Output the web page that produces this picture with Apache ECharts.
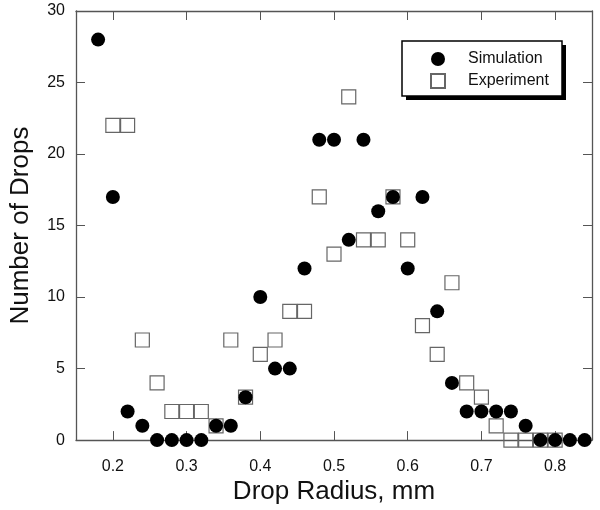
<!DOCTYPE html>
<html>
<head>
<meta charset="utf-8">
<script src="https://cdn.jsdelivr.net/npm/echarts@6/dist/echarts.min.js"></script>
<style>
  html, body { margin: 0; padding: 0; background: #fff; }
  #chart { width: 600px; height: 510px; }
</style>
</head>
<body>
<div id="chart"></div>
<script>
  // drop radius (mm) for each bin
  var simRadius = [0.18, 0.20, 0.22, 0.24, 0.26, 0.28, 0.30, 0.32, 0.34, 0.36, 0.38, 0.40,
    0.42, 0.44, 0.46, 0.48, 0.50, 0.52, 0.54, 0.56, 0.58, 0.60, 0.62, 0.64, 0.66, 0.68,
    0.70, 0.72, 0.74, 0.76, 0.78, 0.80, 0.82, 0.84];
  var simCount = [28, 17, 2, 1, 0, 0, 0, 0, 1, 1, 3, 10,
    5, 5, 12, 21, 21, 14, 21, 16, 17, 12, 17, 9, 4, 2,
    2, 2, 2, 1, 0, 0, 0, 0];

  var expRadius = [0.20, 0.22, 0.24, 0.26, 0.28, 0.30, 0.32, 0.34, 0.36, 0.38, 0.40,
    0.42, 0.44, 0.46, 0.48, 0.50, 0.52, 0.54, 0.56, 0.58, 0.60, 0.62, 0.64, 0.66, 0.68,
    0.70, 0.72, 0.74, 0.76, 0.78, 0.80];
  var expCount = [22, 22, 7, 4, 2, 2, 2, 1, 7, 3, 6,
    7, 9, 9, 17, 13, 24, 14, 14, 17, 14, 8, 6, 11, 4,
    3, 1, 0, 0, 0, 0];

  var xTicks = [0.2, 0.3, 0.4, 0.5, 0.6, 0.7, 0.8];
  var yTicks = [0, 5, 10, 15, 20, 25, 30];

  function pairs(xs, ys) {
    return xs.map(function (x, i) { return [x, ys[i]]; });
  }

  var font = 'Liberation Sans, Arial, sans-serif';
  var axisColor = '#555';

  function frameAxis(pos, min, max, ticks, extra) {
    var ax = {
      type: 'value',
      min: min,
      max: max,
      axisLine: {show: true, onZero: false, lineStyle: {color: axisColor, width: 1.3}},
      axisTick: {show: true, inside: true, length: 9, customValues: ticks, lineStyle: {color: axisColor}},
      axisLabel: {show: false},
      splitLine: {show: false}
    };
    if (pos) ax.position = pos;
    return Object.assign(ax, extra || {});
  }

  var myChart = echarts.init(document.getElementById('chart'), null, {renderer: 'canvas'});
  myChart.setOption({
    animation: false,
    textStyle: {fontFamily: font},
    grid: {left: 76, right: 8, top: 11, bottom: 69},
    // legend box with a hard drop shadow
    graphic: [
      {type: 'rect', z: 10, shape: {x: 406, y: 45, width: 160, height: 55}, style: {fill: '#000'}},
      {type: 'rect', z: 11, shape: {x: 402, y: 41, width: 160, height: 55},
        style: {fill: '#fff', stroke: '#000', lineWidth: 1.5}}
    ],
    legend: {
      z: 20,
      orient: 'vertical',
      left: 402,
      top: 41,
      data: ['Simulation', 'Experiment'],
      padding: [10, 0, 0, 28],
      itemGap: 6,
      itemWidth: 14,
      itemHeight: 14,
      textStyle: {fontFamily: font, fontSize: 16, color: '#111', padding: [0, 0, 0, 18]}
    },
    xAxis: [
      frameAxis(null, 0.15, 0.85, xTicks, {
        name: 'Drop Radius, mm',
        nameLocation: 'middle',
        nameGap: 37,
        nameTextStyle: {fontFamily: font, fontSize: 26, color: '#111'},
        axisLabel: {customValues: xTicks, fontFamily: font, fontSize: 16, color: '#111', margin: 18}
      }),
      frameAxis('top', 0.15, 0.85, xTicks)
    ],
    yAxis: [
      frameAxis(null, 0, 30, yTicks, {
        interval: 5,
        name: 'Number of Drops',
        nameLocation: 'middle',
        nameGap: 42,
        nameTextStyle: {fontFamily: font, fontSize: 26, color: '#111'},
        axisLabel: {customValues: yTicks, fontFamily: font, fontSize: 16, color: '#111', margin: 11}
      }),
      frameAxis('right', 0, 30, yTicks, {interval: 5})
    ],
    series: [
      {
        name: 'Experiment',
        type: 'scatter',
        symbol: 'rect',
        symbolSize: 14,
        clip: false,
        itemStyle: {color: 'rgba(255,255,255,0)', borderColor: '#666', borderWidth: 1.2, opacity: 1},
        data: pairs(expRadius, expCount)
      },
      {
        name: 'Simulation',
        type: 'scatter',
        symbol: 'circle',
        symbolSize: 14,
        clip: false,
        itemStyle: {color: '#000', opacity: 1},
        data: pairs(simRadius, simCount)
      }
    ]
  });
</script>
</body>
</html>
